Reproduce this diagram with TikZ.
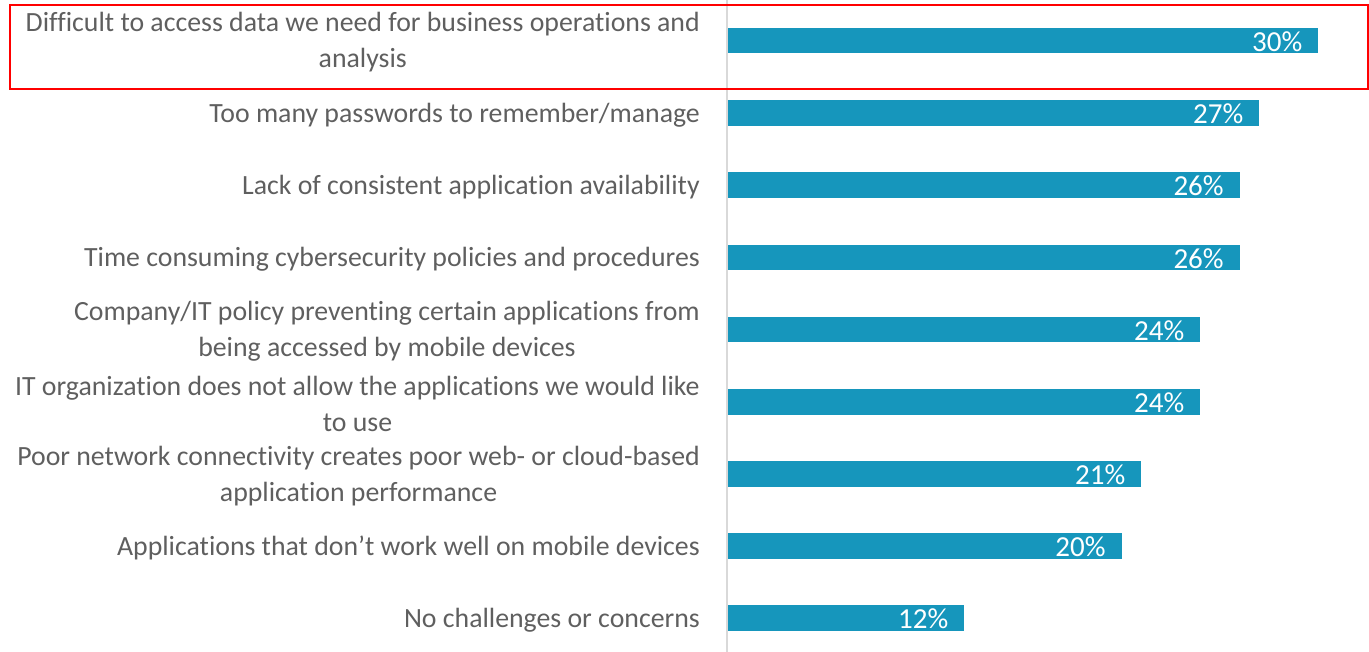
\documentclass[tikz,border=0pt]{standalone}
\usepackage{fontspec}
\setmainfont{Carlito}[Ligatures=NoCommon]
\definecolor{barblue}{HTML}{1696BC}
\definecolor{txtgray}{HTML}{5F5F5F}
\definecolor{axisgray}{HTML}{D9D9D9}
\begin{document}
\begin{tikzpicture}[x=1pt,y=-1pt,
 cat/.style={anchor=east,align=center,inner sep=0pt,text=txtgray,font=\fontsize{27.8}{36}\selectfont},
 bar/.style={anchor=west,fill=barblue,inner sep=0pt,minimum height=25.5pt},
 pct/.style={anchor=east,text=white,inner sep=0pt,font=\fontsize{29}{30}\selectfont},
 hl/.style={draw=red,line width=2pt}]
\useasboundingbox (0,0) rectangle (1369,652);
\draw[axisgray,line width=2pt] (727,0) -- (727,652);
\foreach \n/\c/\v/\t in {
 1/40.5/30/{Difficult to access data we need for business operations and\\analysis},
 2/113/27/{Too many passwords to remember/manage},
 3/185/26/{Lack of consistent application availability},
 4/257.5/26/{Time consuming cybersecurity policies and procedures},
 5/329.5/24/{Company/IT policy preventing certain applications from\\being accessed by mobile devices},
 6/402/24/{IT organization does not allow the applications we would like\\to use},
 7/474/21/{Poor network connectivity creates poor web- or cloud-based\\application performance},
 8/546/20/{Applications that don’t work well on mobile devices},
 9/618/12/{No challenges or concerns}}{
 \node[bar,minimum width={\v*19.67pt}] (bar\n) at (728,\c) {};
 \node[pct] (pct\n) at ([xshift=-16pt,yshift=-1pt]bar\n.east) {\v\%};
 \node[cat] (cat\n) at (700,\c+2) {\t};
}
\node[hl,inner sep=0pt,minimum width=1358pt,minimum height=84pt,anchor=north west] (box) at (9,4) {};
\end{tikzpicture}
\end{document}
